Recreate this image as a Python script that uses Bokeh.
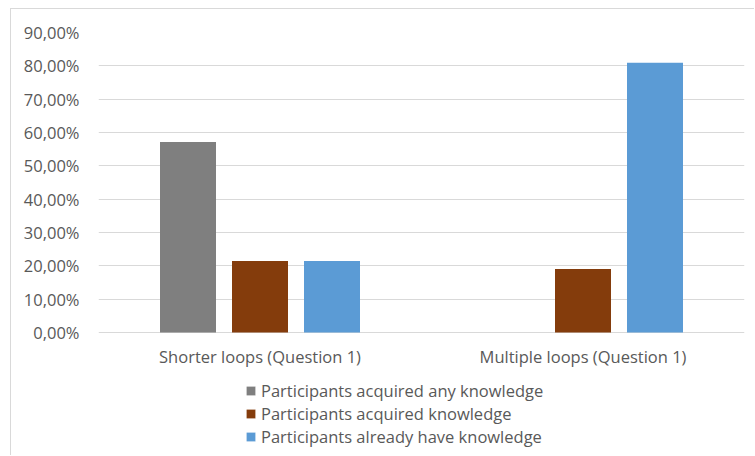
from bokeh.plotting import figure
from bokeh.models import FactorRange, Range1d, FixedTicker, Legend, LegendItem, ColumnDataSource
from bokeh.transform import dodge
from bokeh.core.properties import value
from bokeh.embed import file_html
from bokeh.resources import INLINE

categories = ["Shorter loops (Question 1)", "Multiple loops (Question 1)"]
series_names = ["Participants acquired any knowledge",
                "Participants acquired knowledge",
                "Participants already have knowledge"]
any_knowledge = [57.14, 0.0]
acquired_knowledge = [21.43, 19.05]
already_have = [21.43, 80.95]
y_ticks = [0, 10, 20, 30, 40, 50, 60, 70, 80, 90]
y_tick_labels = ["0,00%", "10,00%", "20,00%", "30,00%", "40,00%",
                 "50,00%", "60,00%", "70,00%", "80,00%", "90,00%"]

colors = ["#7f7f7f", "#843c0c", "#5b9bd5"]
FONT = "Open Sans"
TXT = "#595959"
FS = "16.5px"

src = ColumnDataSource(dict(cat=categories, a=any_knowledge,
                            b=acquired_knowledge, c=already_have,
                            base=[0.0, 0.0]))

# frame extends below the 0 line to host category labels and legend
p = figure(width=744, height=447, x_range=FactorRange(*categories),
           y_range=Range1d(-35.4, 90), output_backend="svg",
           toolbar_location=None, min_border_left=87, min_border_right=11,
           min_border_top=23, min_border_bottom=6)
p.styles = {"border-left": "1px solid #d9d9d9", "border-top": "1px solid #d9d9d9",
            "margin-left": "10px", "margin-top": "8px"}
p.outline_line_color = None
p.xgrid.grid_line_color = None
p.ygrid.grid_line_color = "#d9d9d9"
p.ygrid.grid_line_width = 1
p.xaxis.visible = False

off = 72 / 323
w = 56 / 323
renderers = []
for col, dx, color in zip(["a", "b", "c"], [-off, 0, off], colors):
    r = p.vbar(x=dodge("cat", dx, range=p.x_range), top=col, width=w,
               source=src, fill_color=color, line_color=None)
    renderers.append(r)

p.text(x="cat", y="base", text="cat", source=src, y_offset=24,
       text_align="center", text_baseline="middle", text_font=value(FONT),
       text_font_size=FS, text_color=TXT)

p.yaxis.ticker = FixedTicker(ticks=y_ticks)
p.yaxis.major_label_overrides = {t: l for t, l in zip(y_ticks, y_tick_labels)}
ax = p.yaxis[0]
ax.axis_line_color = None
ax.major_tick_line_color = None
ax.minor_tick_line_color = None
ax.major_label_text_font = FONT
ax.major_label_text_color = TXT
ax.major_label_text_font_size = FS
ax.major_label_standoff = 13

legend = Legend(items=[LegendItem(label=n, renderers=[r]) for n, r in zip(series_names, renderers)],
                location=(147, 2), orientation="vertical",
                label_text_font=FONT, label_text_color=TXT,
                label_text_font_size=FS, glyph_width=11, glyph_height=11,
                label_height=23, spacing=0, padding=0, margin=0,
                label_standoff=5, border_line_color=None, background_fill_alpha=0)
p.add_layout(legend, "center")

open("out.html", "w").write(file_html(p, INLINE))
